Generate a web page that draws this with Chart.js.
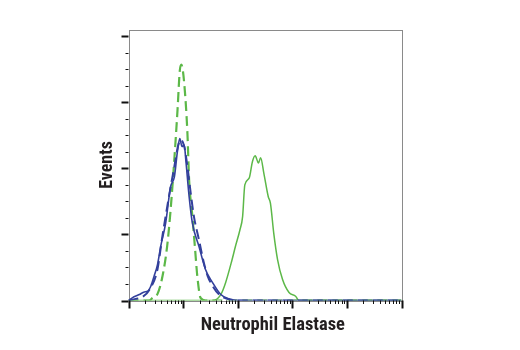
<!DOCTYPE html>
<html lang="en">
<head>
    <meta charset="UTF-8">
    <title>Neutrophil Elastase</title>
    <style>
        body { margin: 0; background: #ffffff; }
        .chart-box { width: 520px; height: 350px; position: relative; }
    </style>
    <script src="https://cdn.jsdelivr.net/npm/chart.js"></script>
</head>
<body>
    <div class="chart-box">
        <canvas id="myChart"></canvas>
    </div>

    <script>
        // fluorescence intensity (log axis) and event counts
        const blueSolidX = [1, 1.17, 1.58, 1.95, 2.24, 2.57, 2.95, 3.39, 3.89, 4.79, 5.89, 6.92, 7.94, 8.71, 9.55, 10.5, 11.2, 12.9, 14.8, 19.5, 25.7, 34.7, 49, 69, 105, 100000];
        const blueSolidY = [0, 0.04, 0.09, 0.13, 0.14, 0.22, 0.37, 0.54, 0.82, 1.17, 1.72, 1.87, 2.28, 2.45, 2.33, 2.35, 2.13, 1.57, 1.17, 0.82, 0.47, 0.27, 0.09, 0.025, 0, 0];

        const blueDashX = [1, 1.35, 1.82, 2.4, 3.39, 4.17, 5.5, 6.92, 8.13, 9.12, 10.5, 12.0, 13.8, 15.8, 19.5, 24, 28.2, 34.7, 45.7, 64.6, 91, 100000];
        const blueDashY = [0, 0.025, 0.055, 0.16, 0.47, 0.97, 1.57, 2.03, 2.35, 2.43, 2.33, 2.03, 1.62, 1.27, 0.92, 0.57, 0.37, 0.22, 0.09, 0.025, 0, 0];

        const greenDashX = [1, 2.4, 2.75, 3.4, 4.2, 5.1, 5.9, 6.9, 7.9, 8.7, 9.3, 10.5, 12.0, 12.9, 14.8, 16.6, 18.2, 20.9, 25.7, 100000];
        const greenDashY = [0, 0, 0.04, 0.1, 0.37, 0.82, 1.37, 2.13, 2.88, 3.48, 3.57, 3.28, 2.53, 1.82, 1.27, 0.77, 0.37, 0.04, 0, 0];

        const greenSolidX = [1, 34.7, 49, 60, 79, 91, 110, 123, 135, 162, 186, 209, 240, 263, 302, 363, 398, 457, 537, 661, 871, 1148, 1318, 100000];
        const greenSolidY = [0, 0, 0.09, 0.27, 0.62, 0.82, 1.07, 1.27, 1.75, 1.85, 2.10, 2.19, 2.08, 2.16, 1.92, 1.57, 1.47, 1.02, 0.62, 0.32, 0.12, 0.065, 0, 0];

        const xMin = 1, xMax = 100000;
        const yMax = 4.1;
        const xTitle = 'Neutrophil Elastase';
        const yTitle = 'Events';

        const toPoints = (xs, ys) => xs.map((x, i) => ({ x: x, y: ys[i] }));

        const fontFamily = "'Liberation Sans Narrow', 'Roboto Condensed', 'DejaVu Sans Condensed', Arial, sans-serif";

        // box around the plot, major/minor tick marks and the x title
        // (the x title in the original sits a little right of centre)
        const frameAndTicks = {
            id: 'frameAndTicks',
            beforeDatasetsDraw(chart) {
                const a = chart.chartArea;
                const ctx = chart.ctx;
                ctx.save();
                ctx.strokeStyle = '#8a8a8a';
                ctx.lineWidth = 1;
                ctx.strokeRect(Math.round(a.left) + 0.5, Math.round(a.top) + 0.5,
                    Math.round(a.right - a.left), Math.round(a.bottom - a.top));
                ctx.restore();
            },
            afterDraw(chart) {
                const a = chart.chartArea;
                const ctx = chart.ctx;
                const xs = chart.scales.x, ys = chart.scales.y;
                ctx.save();
                ctx.strokeStyle = '#111111';
                // y ticks
                for (let v = 0; v <= 4.001; v += 0.25) {
                    const major = Math.abs(v - Math.round(v)) < 1e-6;
                    const py = Math.round(ys.getPixelForValue(v)) + 0.5;
                    ctx.lineWidth = major ? 2 : 1;
                    ctx.beginPath();
                    ctx.moveTo(a.left - (major ? 7 : 3), py);
                    ctx.lineTo(a.left, py);
                    ctx.stroke();
                }
                // x ticks, decades and 2..9
                for (let d = 1; d <= xMax; d *= 10) {
                    for (let k = 1; k <= 9; k++) {
                        const v = d * k;
                        if (v > xMax) break;
                        const major = k === 1;
                        const px = Math.round(xs.getPixelForValue(v)) + 0.5;
                        ctx.lineWidth = major ? 2 : 1;
                        ctx.beginPath();
                        ctx.moveTo(px, a.bottom);
                        ctx.lineTo(px, a.bottom + (major ? 8 : 3.5));
                        ctx.stroke();
                    }
                }
                // x axis title
                ctx.fillStyle = '#231f20';
                ctx.font = 'bold 18.5px ' + fontFamily;
                ctx.textAlign = 'center';
                ctx.textBaseline = 'alphabetic';
                ctx.fillText(xTitle, (a.left + a.right) / 2 + 7.8, a.bottom + 29.6);
                ctx.restore();
            }
        };

        const ctx = document.getElementById('myChart').getContext('2d');
        const myChart = new Chart(ctx, {
            type: 'line',
            data: {
                datasets: [
                    {
                        label: 'blue solid',
                        data: toPoints(blueSolidX, blueSolidY),
                        borderColor: '#33409c',
                        borderWidth: 1.6
                    },
                    {
                        label: 'blue dashed',
                        data: toPoints(blueDashX, blueDashY),
                        borderColor: '#33409c',
                        borderWidth: 2,
                        borderDash: [10, 5]
                    },
                    {
                        label: 'green dashed',
                        data: toPoints(greenDashX, greenDashY),
                        borderColor: '#5cb848',
                        borderWidth: 2.2,
                        borderDash: [10, 5]
                    },
                    {
                        label: 'green solid',
                        data: toPoints(greenSolidX, greenSolidY),
                        borderColor: '#5cb848',
                        borderWidth: 1.5
                    }
                ]
            },
            options: {
                responsive: true,
                maintainAspectRatio: false,
                animation: false,
                elements: {
                    point: { radius: 0 },
                    line: { cubicInterpolationMode: 'monotone', fill: false }
                },
                layout: {
                    padding: { left: 96.7, right: 118.5, top: 29.5, bottom: 49.5 }
                },
                plugins: {
                    legend: { display: false },
                    tooltip: { enabled: false }
                },
                scales: {
                    x: {
                        type: 'logarithmic',
                        min: xMin,
                        max: xMax,
                        grid: { display: false, drawTicks: false },
                        border: { display: false },
                        ticks: { display: false },
                        title: { display: false }
                    },
                    y: {
                        type: 'linear',
                        min: 0,
                        max: yMax,
                        grid: { display: false, drawTicks: false },
                        border: { display: false },
                        ticks: { display: false },
                        title: {
                            display: true,
                            text: yTitle,
                            color: '#231f20',
                            font: { family: fontFamily, size: 18, weight: 'bold', lineHeight: 1.2 },
                            padding: { top: 0, bottom: 10.2 }
                        }
                    }
                }
            },
            plugins: [frameAndTicks]
        });
    </script>
</body>
</html>
